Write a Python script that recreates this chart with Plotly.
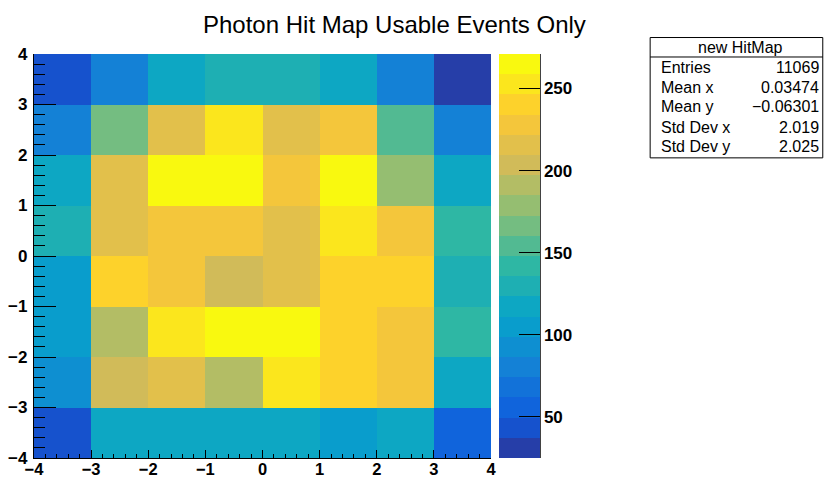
import plotly.graph_objects as go

# ---------------- data ----------------
x_edges = [-4, -3, -2, -1, 0, 1, 2, 3, 4]
y_edges = [-4, -3, -2, -1, 0, 1, 2, 3, 4]
# rows ordered from y=-4..-3 (bottom) up to y=3..4 (top)
counts = [
    [44, 118, 116, 117, 119, 106, 115, 57],
    [94, 204, 214, 190, 252, 241, 229, 118],
    [104, 189, 254, 266, 268, 239, 228, 143],
    [106, 242, 227, 203, 217, 241, 240, 129],
    [131, 215, 229, 228, 214, 252, 227, 141],
    [116, 216, 271, 264, 230, 267, 178, 117],
    [81, 167, 215, 254, 214, 229, 153, 79],
    [42, 82, 117, 131, 129, 118, 80, 25],
]
title_text = "Photon Hit Map Usable Events Only"
stats_title = "new HitMap"
stats_labels = ["Entries", "Mean x", "Mean y", "Std Dev x", "Std Dev y"]
stats_values = ["11069", "0.03474", "\u22120.06301", "2.019", "2.025"]
n_contours = 20

# ---------------- ROOT kBird palette ----------------
stops = [0.0, 0.125, 0.25, 0.375, 0.5, 0.625, 0.75, 0.875, 1.0]
red = [0.2082, 0.0592, 0.0780, 0.0232, 0.1802, 0.5301, 0.8186, 0.9956, 0.9764]
green = [0.1664, 0.3599, 0.5041, 0.6419, 0.7178, 0.7492, 0.7328, 0.7862, 0.9832]
blue = [0.5293, 0.8684, 0.8385, 0.7914, 0.6425, 0.4662, 0.3499, 0.1968, 0.0539]
NCOL = 255
pal = []
for g in range(1, len(stops)):
    n = int(NCOL * stops[g]) - int(NCOL * stops[g - 1])
    for c in range(n):
        r = red[g - 1] + c * (red[g] - red[g - 1]) / n
        gg = green[g - 1] + c * (green[g] - green[g - 1]) / n
        b = blue[g - 1] + c * (blue[g] - blue[g - 1]) / n
        pal.append((round(r * 255), round(gg * 255), round(b * 255)))
while len(pal) < NCOL:
    pal.append(pal[-1])

colorscale = []
for i in range(n_contours):
    idx = min(int((i + 0.99) * NCOL / n_contours), NCOL - 1)
    col = "rgb(%d,%d,%d)" % pal[idx]
    colorscale.append([i / n_contours, col])
    colorscale.append([(i + 1) / n_contours, col])

# ---------------- layout geometry (pixels) ----------------
W, H = 825, 479
L, R = 33.5, 491.5
T, B = 53.5, 458
pw, ph = R - L, B - T

def px2x(px):
    return (px - L) / pw

def px2y(py):
    return (B - py) / ph

cb_left, cb_right = 499.3, 540.7

bold = dict(family="Liberation Sans, Arial, sans-serif", size=17, color="black", weight="bold")
bold_x = dict(family="Liberation Sans, Arial, sans-serif", size=16.5, color="black", weight="bold")
normal = dict(family="Liberation Sans, Arial, sans-serif", color="black")

fig = go.Figure()
fig.add_trace(go.Heatmap(
    x=x_edges, y=y_edges, z=counts,
    colorscale=colorscale,
    hoverinfo="skip",
    colorbar=dict(
        x=px2x(cb_left), xref="paper", xanchor="left",
        y=0.5, yanchor="middle", len=1, lenmode="fraction",
        thickness=cb_right - cb_left, thicknessmode="pixels",
        xpad=0, ypad=0, outlinewidth=0,
        ticks="inside", ticklen=21, tickwidth=1.3, tickcolor="black",
        tickmode="linear", tick0=0, dtick=50,
        tickfont=bold,
    ),
))

axis_common = dict(
    showgrid=False, zeroline=False, showline=True, linecolor="black", linewidth=1.3,
    ticks="inside", tickcolor="black", tickwidth=1.3,
    tickmode="linear", tick0=0, dtick=1,
    mirror=False, automargin=False,
)
fig.update_xaxes(range=[-4, 4], ticklen=8, tickfont=bold_x,
                 minor=dict(ticks="inside", ticklen=4, dtick=0.2, tick0=0, tickcolor="black", tickwidth=1.3),
                 ticklabelstandoff=-4,
                 **axis_common)
fig.update_yaxes(range=[-4, 4], ticklen=21.5, tickfont=bold,
                 minor=dict(ticks="inside", ticklen=11, dtick=0.2, tick0=0, tickcolor="black", tickwidth=1.3),
                 ticklabelstandoff=2,
                 **axis_common)

shapes = []
# colorbar right axis line
shapes.append(dict(type="line", xref="paper", yref="paper",
                   x0=px2x(cb_right), x1=px2x(cb_right), y0=0, y1=1,
                   line=dict(color="black", width=1.3)))
# stats box
sb_l, sb_r, sb_t, sb_b, sb_h = 651, 824, 37, 157.5, 56.5
shapes.append(dict(type="rect", xref="paper", yref="paper",
                   x0=px2x(sb_l), x1=px2x(sb_r), y0=px2y(sb_b), y1=px2y(sb_t),
                   line=dict(color="black", width=1), fillcolor="white"))
shapes.append(dict(type="line", xref="paper", yref="paper",
                   x0=px2x(sb_l), x1=px2x(sb_r), y0=px2y(sb_h), y1=px2y(sb_h),
                   line=dict(color="black", width=1)))

annotations = []
annotations.append(dict(text=title_text, xref="paper", yref="paper",
                        x=px2x(395), y=px2y(24), xanchor="center", yanchor="middle",
                        showarrow=False, font=dict(size=24, **normal)))
annotations.append(dict(text=stats_title, xref="paper", yref="paper",
                        x=px2x(741.5), y=px2y(46.5), xanchor="center", yanchor="middle",
                        showarrow=False, font=dict(size=16, **normal)))
row_y = [67.5, 87, 106, 127.5, 146.5]
for lab, val, ry in zip(stats_labels, stats_values, row_y):
    annotations.append(dict(text=lab, xref="paper", yref="paper",
                            x=px2x(660), y=px2y(ry), xanchor="left", yanchor="middle",
                            showarrow=False, font=dict(size=16, **normal)))
    annotations.append(dict(text=val, xref="paper", yref="paper",
                            x=px2x(822), y=px2y(ry), xanchor="right", yanchor="middle",
                            showarrow=False, font=dict(size=16, **normal)))

fig.update_layout(
    width=W, height=H,
    margin=dict(l=L, r=W - R, t=T, b=H - B, pad=0, autoexpand=False),
    paper_bgcolor="white", plot_bgcolor="white",
    shapes=shapes, annotations=annotations,
    showlegend=False,
)

fig.write_html("out.html")
